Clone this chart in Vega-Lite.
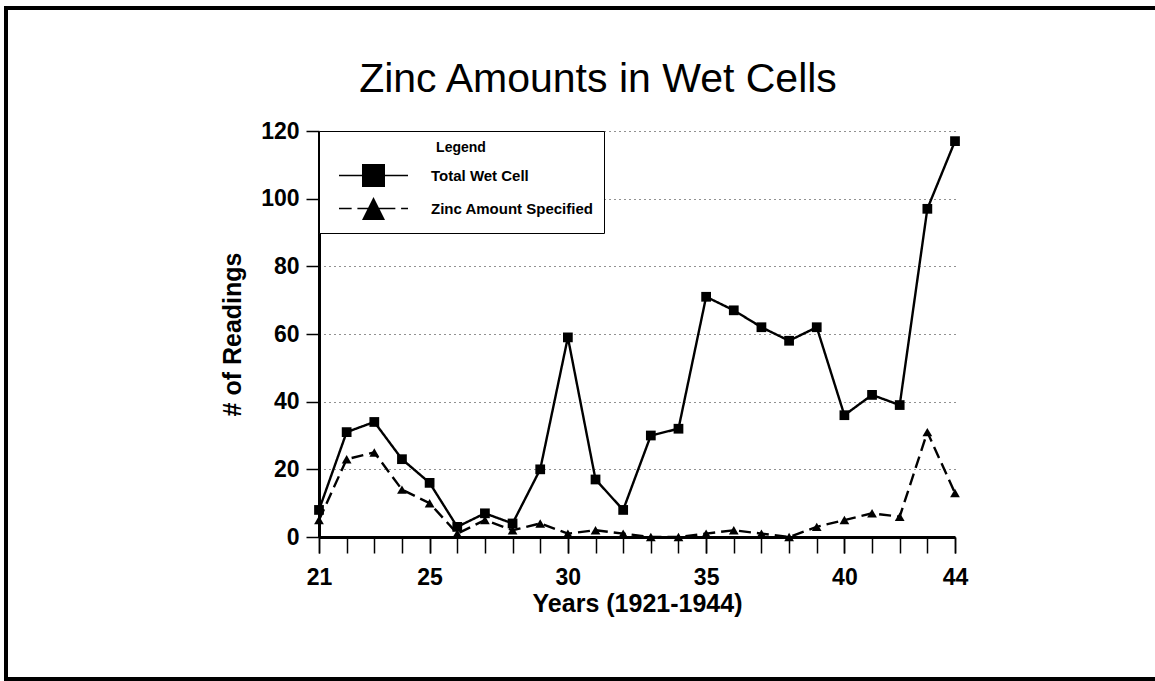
{
  "$schema": "https://vega.github.io/schema/vega-lite/v6.json",
  "width": 636,
  "height": 406,
  "autosize": {"type": "none"},
  "padding": {"left": 319, "top": 131, "right": 200, "bottom": 144},
  "background": "white",
  "title": {
    "text": "Zinc Amounts in Wet Cells",
    "font": "Liberation Sans",
    "fontSize": 41,
    "fontWeight": "normal",
    "color": "black",
    "anchor": "middle",
    "baseline": "alphabetic",
    "dx": -39,
    "offset": -126
  },
  "config": {
    "view": {"stroke": null},
    "axis": {
      "labelFont": "Liberation Sans",
      "titleFont": "Liberation Sans",
      "labelFontSize": 23,
      "labelFontWeight": "bold",
      "titleFontSize": 25,
      "titleFontWeight": "bold",
      "labelColor": "black",
      "titleColor": "black",
      "tickColor": "black",
      "tickWidth": 1.5,
      "domainColor": "black",
      "domainWidth": 3,
      "labelOverlap": false
    },
    "legend": {
      "orient": "top-left",
      "offset": 0,
      "titleFont": "Liberation Sans",
      "titleFontSize": 14,
      "titleFontWeight": "bold",
      "titleColor": "black",
      "titleAnchor": "middle",
      "titlePadding": 8,
      "labelFont": "Liberation Sans",
      "labelFontSize": 15,
      "labelFontWeight": "bold",
      "labelColor": "black",
      "labelLimit": 400,
      "padding": 10,
      "strokeColor": "black",
      "fillColor": "white",
      "symbolSize": 529,
      "symbolStrokeWidth": 1.5,
      "symbolStrokeColor": "black",
      "symbolFillColor": "black",
      "symbolOpacity": 1,
      "symbolOffset": 32,
      "labelOffset": 45,
      "rowPadding": 4
    }
  },
  "resolve": {"axis": {"x": "independent"}, "scale": {"shape": "independent"}},
  "data": {
    "values": [
      {"year": 21, "series": "Total Wet Cell", "value": 8},
      {"year": 22, "series": "Total Wet Cell", "value": 31},
      {"year": 23, "series": "Total Wet Cell", "value": 34},
      {"year": 24, "series": "Total Wet Cell", "value": 23},
      {"year": 25, "series": "Total Wet Cell", "value": 16},
      {"year": 26, "series": "Total Wet Cell", "value": 3},
      {"year": 27, "series": "Total Wet Cell", "value": 7},
      {"year": 28, "series": "Total Wet Cell", "value": 4},
      {"year": 29, "series": "Total Wet Cell", "value": 20},
      {"year": 30, "series": "Total Wet Cell", "value": 59},
      {"year": 31, "series": "Total Wet Cell", "value": 17},
      {"year": 32, "series": "Total Wet Cell", "value": 8},
      {"year": 33, "series": "Total Wet Cell", "value": 30},
      {"year": 34, "series": "Total Wet Cell", "value": 32},
      {"year": 35, "series": "Total Wet Cell", "value": 71},
      {"year": 36, "series": "Total Wet Cell", "value": 67},
      {"year": 37, "series": "Total Wet Cell", "value": 62},
      {"year": 38, "series": "Total Wet Cell", "value": 58},
      {"year": 39, "series": "Total Wet Cell", "value": 62},
      {"year": 40, "series": "Total Wet Cell", "value": 36},
      {"year": 41, "series": "Total Wet Cell", "value": 42},
      {"year": 42, "series": "Total Wet Cell", "value": 39},
      {"year": 43, "series": "Total Wet Cell", "value": 97},
      {"year": 44, "series": "Total Wet Cell", "value": 117},
      {"year": 21, "series": "Zinc Amount Specified", "value": 5},
      {"year": 22, "series": "Zinc Amount Specified", "value": 23},
      {"year": 23, "series": "Zinc Amount Specified", "value": 25},
      {"year": 24, "series": "Zinc Amount Specified", "value": 14},
      {"year": 25, "series": "Zinc Amount Specified", "value": 10},
      {"year": 26, "series": "Zinc Amount Specified", "value": 1},
      {"year": 27, "series": "Zinc Amount Specified", "value": 5},
      {"year": 28, "series": "Zinc Amount Specified", "value": 2},
      {"year": 29, "series": "Zinc Amount Specified", "value": 4},
      {"year": 30, "series": "Zinc Amount Specified", "value": 1},
      {"year": 31, "series": "Zinc Amount Specified", "value": 2},
      {"year": 32, "series": "Zinc Amount Specified", "value": 1},
      {"year": 33, "series": "Zinc Amount Specified", "value": 0},
      {"year": 34, "series": "Zinc Amount Specified", "value": 0},
      {"year": 35, "series": "Zinc Amount Specified", "value": 1},
      {"year": 36, "series": "Zinc Amount Specified", "value": 2},
      {"year": 37, "series": "Zinc Amount Specified", "value": 1},
      {"year": 38, "series": "Zinc Amount Specified", "value": 0},
      {"year": 39, "series": "Zinc Amount Specified", "value": 3},
      {"year": 40, "series": "Zinc Amount Specified", "value": 5},
      {"year": 41, "series": "Zinc Amount Specified", "value": 7},
      {"year": 42, "series": "Zinc Amount Specified", "value": 6},
      {"year": 43, "series": "Zinc Amount Specified", "value": 31},
      {"year": 44, "series": "Zinc Amount Specified", "value": 13}
    ]
  },
  "layer": [
    {
      "mark": {"type": "rect", "fill": null, "stroke": "black", "strokeWidth": 3, "clip": false},
      "encoding": {
        "x": {
          "datum": 9.68,
          "type": "quantitative",
          "scale": {"domain": [21, 44], "nice": false, "zero": false},
          "axis": null
        },
        "x2": {"datum": 52},
        "y": {
          "datum": 156.3,
          "type": "quantitative",
          "scale": {"domain": [0, 120], "nice": false},
          "axis": {
            "title": "# of Readings",
            "values": [0, 20, 40, 60, 80, 100, 120],
            "tickSize": 13,
            "labelPadding": 7,
            "titlePadding": 15,
            "grid": true,
            "gridColor": "#222",
            "gridDash": [1, 4],
            "gridWidth": 1
          }
        },
        "y2": {"datum": -42}
      }
    },
    {
      "mark": {"type": "line", "color": "black", "strokeWidth": 2.4},
      "encoding": {
        "x": {
          "field": "year",
          "type": "quantitative",
          "axis": {
            "orient": "bottom",
            "title": null,
            "values": [21,22,23,24,25,26,27,28,29,30,31,32,33,34,35,36,37,38,39,40,41,42,43,44],
            "labels": false,
            "tickSize": 16,
            "grid": false
          }
        },
        "y": {"field": "value", "type": "quantitative"},
        "strokeDash": {
          "field": "series",
          "type": "nominal",
          "scale": {"domain": ["Total Wet Cell", "Zinc Amount Specified"], "range": [[1, 0], [12, 6]]},
          "legend": null
        }
      }
    },
    {
      "mark": {"type": "point", "filled": true, "color": "black", "opacity": 1, "size": 95},
      "encoding": {
        "x": {
          "field": "year",
          "type": "quantitative",
          "axis": {
            "orient": "bottom",
            "title": "Years (1921-1944)",
            "values": [21, 25, 30, 35, 40, 44],
            "domain": false,
            "ticks": true,
            "tickSize": 16,
            "labelPadding": 13,
            "titlePadding": 2,
            "labelFlush": false,
            "grid": false
          }
        },
        "y": {"field": "value", "type": "quantitative"},
        "shape": {
          "field": "series",
          "type": "nominal",
          "scale": {"domain": ["Total Wet Cell", "Zinc Amount Specified"], "range": ["square", "triangle-up"]},
          "legend": null
        }
      }
    },
    {
      "transform": [{"filter": "datum.value < 0"}],
      "mark": {"type": "point", "filled": true, "color": "black", "stroke": "black", "strokeWidth": 1.5, "opacity": 1, "size": 529},
      "encoding": {
        "x": {"field": "year", "type": "quantitative", "axis": null},
        "y": {"field": "value", "type": "quantitative"},
        "shape": {
          "field": "series",
          "type": "nominal",
          "scale": {
            "domain": ["Total Wet Cell", "Zinc Amount Specified"],
            "range": [
              "M-3,-0.07H-1V-1H1V-0.07H3V0.07H1V1H-1V0.07H-3Z",
              "M-3,-0.07H-1.9V0.07H-3Z M-1.4,-0.07H-0.45V0.07H-1.4Z M0.45,-0.07H1.9V0.07H0.45Z M2.4,-0.07H3V0.07H2.4Z M0,-1L1,1H-1Z"
            ]
          },
          "legend": {"title": "Legend"}
        }
      }
    }
  ]
}
